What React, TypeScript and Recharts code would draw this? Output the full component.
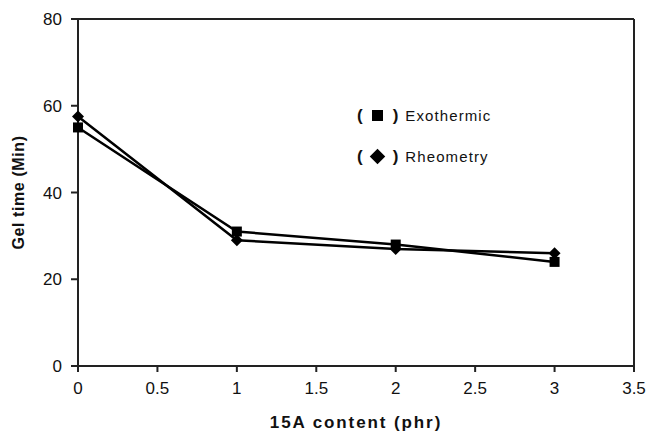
import { LineChart, Line, XAxis, YAxis, ReferenceLine } from 'recharts';

const content = [0, 1, 2, 3];
const exothermic = [55, 31, 28, 24];
const rheometry = [57.5, 29, 27, 26];
const xTicks = [0, 0.5, 1, 1.5, 2, 2.5, 3, 3.5];
const yTicks = [0, 20, 40, 60, 80];

const data = content.map((c, i) => ({ c, exo: exothermic[i], rheo: rheometry[i] }));

const font = 'Arial, "Liberation Sans", sans-serif';

const Square = ({ cx, cy }: any) => (
  <rect x={cx - 5} y={cy - 5} width={10} height={10} fill="#000" />
);

const Diamond = ({ cx, cy }: any) => (
  <path d={`M${cx},${cy - 6} L${cx + 6},${cy} L${cx},${cy + 6} L${cx - 6},${cy} Z`} fill="#000" />
);

const series = [
  { key: 'exo', name: 'Exothermic' },
  { key: 'rheo', name: 'Rheometry' },
];

// legend entries: "( symbol ) name", laid over the plot area
const LegendBox = () => (
  <div style={{ position: 'absolute', left: 357, top: 95, fontFamily: font, color: '#111' }}>
    {series.map((s) => (
      <div key={s.key} style={{ height: 41, display: 'flex', alignItems: 'center' }}>
        <span style={{ fontWeight: 'bold', fontSize: 17 }}>(</span>
        <span style={{ width: 30, height: 20, display: 'flex', alignItems: 'center', justifyContent: 'center' }}>
          {s.key === 'exo' ? (
            <span style={{ width: 11, height: 11, background: '#000' }} />
          ) : (
            <span style={{ width: 11, height: 11, background: '#000', transform: 'rotate(45deg)' }} />
          )}
        </span>
        <span style={{ fontWeight: 'bold', fontSize: 17, marginRight: 7 }}>)</span>
        <span style={{ fontSize: 15, letterSpacing: 1.1 }}>{s.name}</span>
      </div>
    ))}
  </div>
);

export default function App() {
  return (
    <div style={{ position: 'absolute', left: 0, top: 0, width: 651, height: 431, background: '#fff' }}>
      <LineChart width={651} height={431} data={data} margin={{ top: 19, right: 17, bottom: 0, left: 0 }}>
        <XAxis
          dataKey="c"
          type="number"
          domain={[0, 3.5]}
          ticks={xTicks}
          height={65}
          stroke="#222"
          strokeWidth={2}
          tickSize={6}
          tickMargin={10}
          tick={{ fill: '#111', fontSize: 17, fontFamily: font }}
          label={{
            value: '15A content (phr)',
            position: 'insideBottom',
            offset: 3,
            style: { fontFamily: font, fontSize: 17, fontWeight: 'bold', fill: '#111', letterSpacing: 1.9 },
          }}
        />
        <YAxis
          type="number"
          domain={[0, 80]}
          ticks={yTicks}
          width={78}
          stroke="#222"
          strokeWidth={2}
          tickSize={7}
          tickMargin={9}
          tick={{ fill: '#111', fontSize: 17, fontFamily: font }}
          label={{
            value: 'Gel time (Min)',
            angle: -90,
            position: 'insideLeft',
            offset: 18,
            style: { fontFamily: font, fontSize: 16, fontWeight: 'bold', fill: '#111', textAnchor: 'middle', letterSpacing: 0.6 },
          }}
        />
        <ReferenceLine y={80} stroke="#222" strokeWidth={2} ifOverflow="visible" />
        <ReferenceLine x={3.5} stroke="#222" strokeWidth={2} ifOverflow="visible" />
        <Line
          dataKey="exo"
          name="Exothermic"
          stroke="#000"
          strokeWidth={2.5}
          dot={<Square />}
          activeDot={false}
          isAnimationActive={false}
        />
        <Line
          dataKey="rheo"
          name="Rheometry"
          stroke="#000"
          strokeWidth={2.5}
          dot={<Diamond />}
          activeDot={false}
          isAnimationActive={false}
        />
      </LineChart>
      <LegendBox />
    </div>
  );
}
